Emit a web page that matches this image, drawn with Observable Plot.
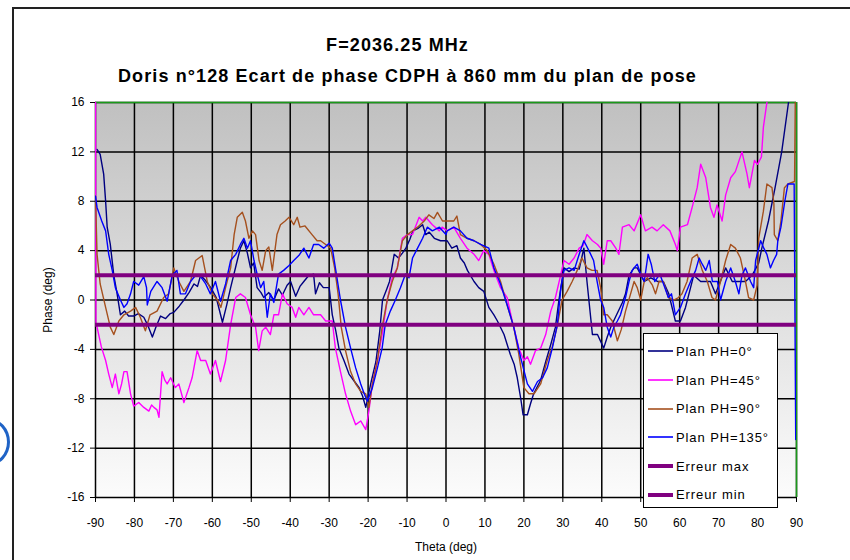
<!DOCTYPE html>
<html>
<head>
<meta charset="utf-8">
<script src="https://cdn.jsdelivr.net/npm/d3@7"></script>
<script src="https://cdn.jsdelivr.net/npm/@observablehq/plot@0.6"></script>
<style>
  body { margin: 0; background: #fff; }
  #wrap { position: relative; width: 850px; height: 560px; overflow: hidden; background: #fff; }
  .frame { position: absolute; left: 12px; top: 7px; width: 900px; height: 600px; border-left: 2px solid #222; border-top: 2px solid #222; }
  .title { position: absolute; left: 0; text-align: center; font-family: "Liberation Sans", Arial, sans-serif; font-weight: bold; font-size: 18px; letter-spacing: 1.1px; color: #000; white-space: nowrap; }
  #chart { position: absolute; left: 0; top: 90px; }
  #legend { position: absolute; left: 643px; top: 333px; width: 133px; height: 170px; border: 1px solid #000; background: #fff; padding-top: 3px; box-sizing: content-box; }
  .item { height: 28.7px; display: flex; align-items: center; font-family: "Liberation Sans", Arial, sans-serif; font-size: 13px; letter-spacing: 0.9px; color: #000; }
  .item svg { margin-left: 4px; margin-right: 3px; }
  .arc { position: absolute; left: -34px; top: 418px; width: 38px; height: 42px; border: 3px solid #1f63c6; border-radius: 50%; }
</style>
</head>
<body>
<div id="wrap">
  <div class="frame"></div>
  <div class="title" style="top:35px;width:795px">F=2036.25 MHz</div>
  <div class="title" style="top:66px;width:815px">Doris n°128 Ecart de phase CDPH à 860 mm du plan de pose</div>
  <div id="chart"></div>
  <div id="legend"></div>
  <div class="arc"></div>
</div>
<script>
// ---- tick values ----
const xTicks = [-90,-80,-70,-60,-50,-40,-30,-20,-10,0,10,20,30,40,50,60,70,80,90];
const yTicks = [-16,-12,-8,-4,0,4,8,12,16];

// ---- error limits ----
const errMax = [2];
const errMin = [-2];

// ---- series names / colours ----
const seriesNames = ["Plan PH=0°","Plan PH=45°","Plan PH=90°","Plan PH=135°","Erreur max","Erreur min"];
const seriesColors = ["#000080","#ff00ff","#a5501e","#0000ff","#800080","#800080"];

// ---- series values [theta, phase] ----
const ph0 = [[-89.6,12.2],[-88.8,11.8],[-87.9,10.2],[-87.4,8],[-87,5.9],[-86.2,4.5],[-85.3,2],[-84.5,0.6],[-83.6,-1.2],[-82.5,-0.9],[-81.5,-1.3],[-80.2,-1.3],[-79,-1.1],[-77.6,-1.4],[-76.5,-2.1],[-75.4,-3],[-74.5,-2.2],[-73.3,-1.3],[-72,-1.5],[-70.8,-1.1],[-69.9,-1],[-68.5,-0.5],[-67.3,0],[-66,0.6],[-64.7,1.3],[-63.8,1.1],[-63,2],[-61.8,1.6],[-60.4,1],[-59,0.2],[-57.4,-1.8],[-56.3,-0.4],[-55.3,1],[-53.6,3.2],[-52.8,4.2],[-51.9,4.8],[-51,3.8],[-50.2,2.6],[-49.4,3],[-48.5,1],[-47.5,0.6],[-46.8,0.2],[-45.5,0.6],[-44.2,0],[-43,0.9],[-42,0.4],[-40.8,1.2],[-39.9,1.5],[-38.6,0.3],[-37.5,1.1],[-36.5,1.5],[-35.2,2],[-34,2.1],[-33.5,0.5],[-32.5,1.4],[-31.5,1],[-30,1],[-29.2,-1.2],[-28.3,-2.5],[-27.5,-3.9],[-26.2,-4.9],[-24.9,-6],[-23.5,-6.6],[-22.3,-7.1],[-21.4,-7.8],[-20.6,-8.7],[-19.8,-7.5],[-19.2,-6.6],[-18,-5],[-17,-2.5],[-16.3,0],[-15.2,0.9],[-14.5,1.5],[-13.3,3.7],[-12.2,3.4],[-11.2,3.8],[-10.3,4.2],[-9.3,4.9],[-8.5,5.6],[-7.2,5.8],[-6,6.1],[-5.2,5.3],[-4.3,5.5],[-3,5],[-1.4,4.8],[0.3,4.8],[1.5,4.2],[2.8,4.4],[3.7,3.4],[4.7,3],[5.5,2.4],[7.2,1.5],[8.4,1],[9.7,0.7],[11,-0.6],[12.3,-1.2],[13.2,-1.7],[14.9,-2.8],[16.5,-4.4],[17.5,-5.2],[18.3,-6.3],[19.2,-8],[19.8,-9.3],[20.9,-9.3],[21.7,-8.4],[22.5,-7.6],[24.3,-6.5],[25.6,-5],[26.9,-3.6],[28.1,-2.2],[29,0],[29.5,1],[30.3,2.6],[31.6,2.3],[32.9,2.6],[34.2,2.5],[35.4,4.2],[36.2,1.5],[37.6,-2.8],[38.9,-2.8],[40.5,-3.9],[41.4,-3],[42.3,-2.2],[43.5,-1.4],[45.3,-0.2],[46.1,0.5],[47,2],[48.3,2.6],[49.1,2.6],[50.9,1.5],[52.6,1.8],[54.3,1.5],[55.8,1.5],[57.2,0.5],[58.9,-1.7],[60.2,-1.7],[61.5,-0.6],[62.8,1],[63.6,2],[65.4,1.5],[67.9,1.5],[69.2,0.5],[71.8,2.6],[73.5,1.5],[75.1,1.5],[76.9,1.5],[78.6,2],[80.3,3],[81.1,4.2],[82.8,6.4],[84.5,9.1],[86.2,12],[87.9,15.9],[88.8,18]];

const ph45 = [[-90,18],[-89.9,-2],[-89.6,-2.2],[-88.5,-3.8],[-87.4,-4.9],[-86.6,-6],[-85.7,-7.1],[-84.9,-6],[-84,-7.6],[-83.3,-6.8],[-82.7,-5.8],[-81.9,-5.8],[-81,-7.6],[-80.2,-8.6],[-78.9,-8.3],[-77.6,-8.7],[-76.3,-9],[-75.6,-8.5],[-75,-8.7],[-74.2,-8.9],[-73.7,-9.5],[-72.9,-5.8],[-72.2,-6.5],[-71.6,-6.8],[-70.7,-6.3],[-69.5,-7.1],[-68.6,-6.8],[-67.3,-8.3],[-66,-7.1],[-65.2,-6.3],[-63.9,-4.1],[-63,-4.9],[-61.7,-4.9],[-60.5,-6],[-59.2,-4.9],[-57.9,-6.6],[-56.6,-4.9],[-55.3,-2],[-54,0.2],[-52.8,0.5],[-51.5,0.2],[-50.2,-1.2],[-48.9,-2.2],[-48.1,-4.1],[-47.2,-2.5],[-46.3,-2.2],[-45.1,-2.8],[-44.2,-1.2],[-43,-1.2],[-42,0.5],[-40.8,-0.3],[-39.5,-0.6],[-38.6,-1.4],[-37.8,-0.6],[-36.5,-1.2],[-35.2,-0.6],[-34,-1.2],[-32.2,-1.2],[-30.9,-1.7],[-29.2,-1.7],[-28.4,-3.9],[-27.1,-5.8],[-25.8,-7.6],[-24.5,-9],[-23.2,-10.1],[-21.9,-9.8],[-20.6,-10.5],[-19.8,-9],[-18.9,-6.8],[-17.6,-4.9],[-16.4,-2.8],[-15.1,0],[-13.8,1.8],[-12.5,2.6],[-11.2,5],[-9.9,5.3],[-8.6,5.3],[-6.9,6.7],[-6,6.4],[-5.2,6.7],[-3.5,6.1],[-1.7,5.6],[-1,5.9],[0.3,5.6],[2,5.9],[3.7,5],[5.4,4.2],[7.2,3.7],[8.4,3.2],[9.7,4],[11,3.7],[12.3,2.4],[14,1],[15.7,0.2],[17,-1.7],[18.7,-3.9],[20,-4.9],[20.9,-4.6],[21.7,-5.2],[23,-4.1],[24.3,-3.9],[25.6,-2.8],[26.9,-0.9],[28.1,0.2],[29.5,2.1],[30.3,3.2],[31.6,2.9],[32.9,3.4],[34.2,4.2],[35.2,4.4],[36.2,5.3],[37.6,4.8],[38.9,4.5],[39.7,4.2],[40.5,2.9],[41.4,4.8],[42.3,4.8],[43.6,4.2],[44.4,3.7],[45.3,5.9],[47,6.1],[48.3,5.6],[50,6.9],[51.2,5.6],[52.9,5.9],[54.2,5.6],[55.8,6.1],[57.5,5.6],[58.9,4.5],[59.4,4],[60.2,5.9],[62,6.1],[63.2,7.5],[64.5,9.1],[65.4,11],[66.7,9.9],[67.9,7.5],[68.8,6.7],[69.6,7.7],[70.9,6.4],[71.8,8.5],[73.1,9.9],[74.3,10.4],[76,12],[77.3,10.2],[77.9,9.1],[79.2,11.3],[80,11],[81,11.6],[81.5,14],[82.4,16],[83,18]];

const ph90 = [[-90,8.4],[-89.6,3.7],[-88.8,1.3],[-87.4,-0.6],[-86.2,-2.2],[-85.3,-2.8],[-84,-1.7],[-82.7,-1.2],[-81,-0.9],[-79.7,-0.6],[-78.5,-1.4],[-77.2,-2.5],[-76,-1.2],[-74.2,-0.9],[-72.5,0.2],[-71.2,0.5],[-69.9,2.6],[-68.6,1.5],[-67.3,0.7],[-65.6,1.5],[-64.3,3.2],[-62.6,3.6],[-61.3,1.5],[-60,0.5],[-58.7,0],[-57.8,-0.6],[-56.6,1],[-55.3,2.6],[-54.4,5.3],[-53.6,6.7],[-52.3,7.1],[-51.5,6.4],[-50.6,5],[-49.7,5.6],[-48.9,5.3],[-48,3.2],[-47.2,2.4],[-46.3,4],[-45.5,4.3],[-44.6,2.4],[-43.4,5.3],[-42.5,6.1],[-41.3,6.4],[-40.3,6.7],[-39.1,6.1],[-38.2,6.7],[-37.5,5.9],[-36.2,6],[-34.4,5.3],[-33.1,4.8],[-32.2,4.8],[-30.9,4.5],[-29.6,4.2],[-28.6,2.6],[-27.7,0.5],[-26.9,-2.2],[-25.8,-4.1],[-24.5,-5.8],[-23.2,-6.8],[-21.9,-7.4],[-20.6,-7.6],[-19.8,-8.7],[-18.9,-6.8],[-17.6,-4.9],[-16.4,-2.2],[-15.1,0],[-13.8,1.5],[-12.5,2.6],[-11.2,4.8],[-9.9,5.3],[-8.6,5.6],[-7.3,5.9],[-5.6,6.4],[-4.4,6.9],[-3.1,6.6],[-2.2,7.1],[-0.9,6.4],[0.3,6.4],[2,6.4],[2.8,6.8],[3.7,5.3],[5.4,5],[7.2,4.8],[8.9,4.5],[10.6,4],[12.3,2.9],[14,1.5],[15.7,-0.4],[17.4,-2.2],[18.7,-4.4],[20,-7.1],[21.3,-7.6],[22.6,-7.6],[24.3,-6.8],[26,-4.9],[27.2,-3.9],[28.5,-2.2],[29.8,0],[31.1,0.7],[32.4,1.5],[33.7,2.4],[34.9,3.4],[36.2,2.6],[37.5,2.4],[38.8,2.4],[39.7,1],[40.5,-1.2],[41.4,-1.2],[42.7,-1.7],[44,-3.3],[45,-2.4],[46.1,-0.9],[47.4,0.5],[48.3,1.5],[49.1,1],[50,0],[50.9,1.5],[51.7,1.8],[53,1.2],[53.8,0.5],[54.7,1.5],[55.8,1.5],[57.1,0.2],[58.5,0],[59.7,0.2],[60.6,0.5],[61.9,1.5],[63.2,3.4],[64.5,3.7],[65.8,2.4],[67.1,1.5],[68.3,0.2],[69.2,0],[70.5,1.5],[71.8,3.2],[73.1,4.5],[74.3,4.2],[75.6,3.4],[76.9,1.5],[77.7,0.2],[79,0],[79.9,1.2],[80.3,5],[81.5,7.2],[82.4,9.4],[83.7,9.1],[84.2,7.8],[84.3,5.3],[85.2,4.8],[86,6.4],[86.9,9.1],[87.8,9.4],[89.5,9.6],[89.8,20]];

const ph135 = [[-90,8.4],[-89.6,7.5],[-88.4,6.4],[-87.4,5.6],[-86.6,3.7],[-85.7,2.4],[-84.9,1],[-83.6,0],[-82.7,-0.6],[-81.9,-0.3],[-81,0.5],[-80.2,1.5],[-78.9,1.2],[-77.6,1.9],[-76.9,1],[-76.7,-0.4],[-75.8,0.7],[-74.2,1.5],[-72.9,1],[-71.6,-0.1],[-70.3,2],[-69.1,2.4],[-68.2,0.5],[-66.9,0.5],[-65.6,1.5],[-64.3,2],[-63,1.9],[-61.7,1.3],[-60.5,0.5],[-59.2,1.5],[-57.9,-0.1],[-56.6,1.3],[-55.3,3.2],[-54,3.7],[-52.8,4.5],[-51.9,5],[-51,4.2],[-50.2,4.8],[-49.3,3.2],[-48.5,2.1],[-47.6,1],[-46.8,1.5],[-45.9,-1.4],[-45.1,0.5],[-44.2,-0.2],[-43,2.1],[-41.7,2.4],[-40.3,2.8],[-39.1,3.2],[-37.8,3.6],[-36.5,4.2],[-35.2,3.4],[-34,4.5],[-32.7,4.5],[-31.4,4.2],[-30,4.6],[-29.2,4.2],[-28.4,2.6],[-27.1,0],[-25.8,-2.2],[-24.5,-3.9],[-23.2,-5.5],[-21.9,-6.8],[-21,-7.6],[-20.2,-8.2],[-18.9,-7.1],[-17.6,-5.5],[-16.4,-3.9],[-15.6,-2],[-14.3,-0.9],[-13,0],[-11.7,1],[-10.4,2.1],[-9.5,1.8],[-8.6,3.4],[-7.3,4.2],[-6,5],[-4.8,5.9],[-3.5,5.6],[-1.7,5.9],[0,5.3],[0.3,5.6],[2,5.9],[3.7,5.6],[5.4,5],[7.2,4.8],[8.9,4.5],[11,4.2],[12.3,2.6],[14,1.3],[15.7,-0.4],[17.4,-2.2],[19.2,-4.7],[20.9,-6.8],[22.2,-7.4],[23.5,-6.6],[24.8,-6.3],[26,-5.5],[27.3,-3.9],[28.6,-2],[29.5,1],[30.3,2.4],[31.6,2.6],[32.9,2.4],[34.2,3.7],[35.4,4.8],[36.7,4],[37.9,3.2],[38.8,1.5],[39.7,0],[40.5,-0.6],[41.4,-2.2],[42.3,-3],[43.1,-2.2],[44,-1.7],[44.8,-1.2],[46.1,0.2],[47,1.5],[47.8,2.4],[48.3,2.6],[49.1,2.9],[50,2.1],[50.9,1.5],[51.9,3.7],[52.7,2.9],[53.6,1.5],[54.9,2.1],[56.2,1],[57.1,0.2],[57.9,0.5],[58.9,-1.2],[60.2,-0.6],[61.5,0.5],[62.8,1.5],[64.1,2.4],[65,3.4],[65.8,2.9],[66.7,2.4],[67.6,3.2],[68.4,1.5],[69.7,1.5],[70.5,0],[71.8,1.5],[73.1,2.6],[74.3,1.5],[75.2,0.5],[76,2],[76.9,2.6],[78.2,1.5],[79,1],[79.5,3.2],[80.8,4.8],[81.6,4.2],[82.4,3.7],[83.3,2.6],[84.1,3.2],[84.9,3.7],[85.2,4.8],[86,5.9],[87,8],[87.8,9.4],[89.4,9.4],[89.8,-11.3]];

const seriesData = [ph0, ph45, ph90, ph135];

const rows = seriesData.flatMap((arr, i) => arr.map(([t, p]) => ({theta: t, phase: p, series: seriesNames[i]})));

const fontFam = '"Liberation Sans", Arial, sans-serif';

const chart = Plot.plot({
  width: 850,
  height: 470,
  marginLeft: 95,
  marginRight: 54,
  marginTop: 12,
  marginBottom: 63,
  style: { fontFamily: fontFam, fontSize: "12px", color: "#000", background: "transparent", overflow: "visible" },
  x: { domain: [-90, 90] },
  y: { domain: [-16, 16] },
  marks: [
    Plot.frame({ fill: "url(#bgGrad)", stroke: null }),
    Plot.gridX(xTicks, { stroke: "#000", strokeOpacity: 1, strokeWidth: 1.5 }),
    Plot.gridY(yTicks, { stroke: "#000", strokeOpacity: 1, strokeWidth: 1.5 }),
    Plot.ruleY([yTicks[yTicks.length - 1]], { stroke: "#1a9a1a", strokeWidth: 1.5 }),
    Plot.ruleX([xTicks[xTicks.length - 1]], { stroke: "#1a9a1a", strokeWidth: 1.5 }),
    ...seriesData.map((arr, i) => Plot.line(rows.filter(d => d.series === seriesNames[i]), {
      x: "theta", y: "phase", stroke: seriesColors[i], strokeWidth: 1.4, clip: true
    })),
    Plot.ruleY(errMax, { stroke: seriesColors[4], strokeWidth: 4 }),
    Plot.ruleY(errMin, { stroke: seriesColors[5], strokeWidth: 4 }),
    Plot.axisX(xTicks, { tickSize: 5, tickPadding: 16, tickFormat: d => String(d), label: "Theta (deg)", labelAnchor: "center", labelOffset: 53, labelArrow: "none", fontSize: 12 }),
    Plot.axisY(yTicks, { tickSize: 5, tickPadding: 6, tickFormat: d => String(d), label: "Phase (deg)", labelAnchor: "center", labelOffset: 52, labelArrow: "none", fontSize: 12 })
  ]
});

d3.select(chart).insert("defs", ":first-child").html(
  '<linearGradient id="bgGrad" x1="0" y1="0" x2="0" y2="1">' +
  '<stop offset="0" stop-color="#c0c0c0"/><stop offset="0.5" stop-color="#dedede"/><stop offset="1" stop-color="#fcfcfc"/></linearGradient>'
);
document.getElementById("chart").appendChild(chart);

// legend
const legend = d3.select("#legend");
seriesNames.forEach((name, i) => {
  const item = legend.append("div").attr("class", "item");
  const sw = item.append("svg").attr("width", 25).attr("height", 6);
  sw.append("line").attr("x1", 0).attr("x2", 25).attr("y1", 3).attr("y2", 3)
    .attr("stroke", seriesColors[i]).attr("stroke-width", i >= 4 ? 4 : 1.6);
  item.append("span").text(name);
});
</script>
</body>
</html>
